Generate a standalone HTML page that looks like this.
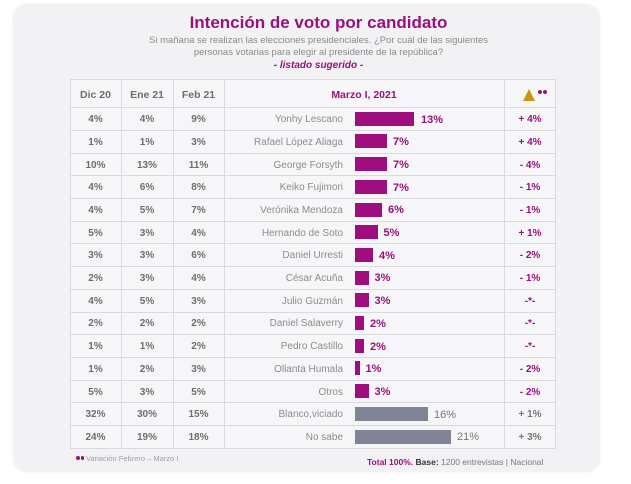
<!DOCTYPE html>
<html>
<head>
<meta charset="utf-8">
<style>
  html,body{margin:0;padding:0;background:#ffffff;}
  body{width:631px;height:484px;position:relative;overflow:hidden;font-family:"Liberation Sans",Arial,sans-serif;}
  .card{position:absolute;left:13px;top:4px;width:587px;height:468px;background:#f2f2f5;border-radius:14px;box-shadow:0 0 3px rgba(0,0,0,0.06);}
  .title{position:absolute;left:0;width:637px;top:12px;line-height:22px;text-align:center;font-size:17px;font-weight:bold;color:#9b0f7e;}
  .sub{position:absolute;left:0;width:637px;top:35px;line-height:12px;text-align:center;font-size:9.5px;color:#8a8a8a;}
  .lis{position:absolute;left:0;width:637px;top:60px;line-height:12px;text-align:center;font-size:10px;font-weight:bold;font-style:italic;color:#9b0f7e;}
  .tbl{position:absolute;left:70px;top:79px;width:486px;height:369px;background:#f6f6f8;}
  .hl{position:absolute;left:70px;width:486px;height:1px;background:#d9d9de;}
  .vl{position:absolute;top:79px;height:369px;width:1px;background:#d9d9de;}
  .r{position:absolute;left:70px;width:486px;height:22.7px;line-height:22.7px;}
  .r span{position:absolute;top:1.7px;white-space:nowrap;}
  .c1{left:0;width:51px;text-align:center;font-size:10px;font-weight:bold;color:#6e6e6e;}
  .c2{left:51px;width:52px;text-align:center;font-size:10px;font-weight:bold;color:#6e6e6e;}
  .c3{left:103px;width:51px;text-align:center;font-size:10px;font-weight:bold;color:#6e6e6e;}
  .nm{left:73px;width:200px;text-align:right;font-size:10px;color:#8c8c8c;}
  .r span.bar{left:285px;top:4.3px;height:14px;background:#9e0e7f;}
  .r span.bar.g{background:#808496;}
  .pl{font-size:11px;font-weight:bold;color:#9b0f7e;}
  .r span.pl{top:1px;}
  .pl.g{font-weight:normal;color:#777;}
  .d{left:434.5px;width:51px;text-align:center;font-size:10px;font-weight:bold;color:#9b0f7e;}
  .d.g{color:#777;}
  .hdr{position:absolute;top:80.5px;height:28px;line-height:28px;text-align:center;font-size:10.5px;font-weight:bold;color:#6e6e6e;}
  .tri{position:absolute;left:523px;top:89px;width:0;height:0;border-left:6.5px solid transparent;border-right:6.5px solid transparent;border-bottom:12px solid #c9960c;}
  .dot{position:absolute;width:4px;height:4px;border-radius:2px;background:#9b0f7e;}
  .fl{position:absolute;left:86px;top:453px;line-height:12px;font-size:7.5px;color:#a0a0a0;}
  .fr{position:absolute;left:367px;top:456px;line-height:13px;font-size:8.5px;color:#7a7a7a;white-space:nowrap;}
</style>
</head>
<body>
<div class="card"></div>
<div class="title">Intención de voto por candidato</div>
<div class="sub">Si mañana se realizan las elecciones presidenciales. ¿Por cuál de las siguientes<br>personas votarias para elegir al presidente de la república?</div>
<div class="lis">- listado sugerido -</div>

<div class="tbl"></div>
<div class="hl" style="top:79px"></div>
<div class="hl" style="top:107px"></div>
<div class="hl" style="top:130px"></div>
<div class="hl" style="top:152.5px"></div>
<div class="hl" style="top:175px"></div>
<div class="hl" style="top:198px"></div>
<div class="hl" style="top:220.5px"></div>
<div class="hl" style="top:243px"></div>
<div class="hl" style="top:266px"></div>
<div class="hl" style="top:288.5px"></div>
<div class="hl" style="top:311.5px"></div>
<div class="hl" style="top:334px"></div>
<div class="hl" style="top:357px"></div>
<div class="hl" style="top:379.5px"></div>
<div class="hl" style="top:402px"></div>
<div class="hl" style="top:425px"></div>
<div class="hl" style="top:447.5px"></div>
<div class="vl" style="left:70px"></div>
<div class="vl" style="left:121px"></div>
<div class="vl" style="left:173px"></div>
<div class="vl" style="left:224px"></div>
<div class="vl" style="left:504px"></div>
<div class="vl" style="left:555px"></div>

<div class="hdr" style="left:70px;width:51px">Dic 20</div>
<div class="hdr" style="left:121px;width:52px">Ene 21</div>
<div class="hdr" style="left:173px;width:51px">Feb 21</div>
<div class="hdr" style="left:224px;width:280px;color:#9b0f7e">Marzo I, 2021</div>
<div class="tri"></div>
<div class="dot" style="left:538px;top:90px"></div>
<div class="dot" style="left:543px;top:90px"></div>

<div class="r" style="top:107.5px"><span class="c1">4%</span><span class="c2">4%</span><span class="c3">9%</span><span class="nm">Yonhy Lescano</span><span class="bar" style="width:59px"></span><span class="pl" style="left:351px">13%</span><span class="d">+ 4%</span></div>
<div class="r" style="top:130.2px"><span class="c1">1%</span><span class="c2">1%</span><span class="c3">3%</span><span class="nm">Rafael López Aliaga</span><span class="bar" style="width:32px"></span><span class="pl" style="left:323px">7%</span><span class="d">+ 4%</span></div>
<div class="r" style="top:152.9px"><span class="c1">10%</span><span class="c2">13%</span><span class="c3">11%</span><span class="nm">George Forsyth</span><span class="bar" style="width:32px"></span><span class="pl" style="left:323px">7%</span><span class="d">- 4%</span></div>
<div class="r" style="top:175.6px"><span class="c1">4%</span><span class="c2">6%</span><span class="c3">8%</span><span class="nm">Keiko Fujimori</span><span class="bar" style="width:32px"></span><span class="pl" style="left:323px">7%</span><span class="d">- 1%</span></div>
<div class="r" style="top:198.3px"><span class="c1">4%</span><span class="c2">5%</span><span class="c3">7%</span><span class="nm">Verónika Mendoza</span><span class="bar" style="width:27px"></span><span class="pl" style="left:318px">6%</span><span class="d">- 1%</span></div>
<div class="r" style="top:221.0px"><span class="c1">5%</span><span class="c2">3%</span><span class="c3">4%</span><span class="nm">Hernando de Soto</span><span class="bar" style="width:22.5px"></span><span class="pl" style="left:313.5px">5%</span><span class="d">+ 1%</span></div>
<div class="r" style="top:243.7px"><span class="c1">3%</span><span class="c2">3%</span><span class="c3">6%</span><span class="nm">Daniel Urresti</span><span class="bar" style="width:18px"></span><span class="pl" style="left:309px">4%</span><span class="d">- 2%</span></div>
<div class="r" style="top:266.4px"><span class="c1">2%</span><span class="c2">3%</span><span class="c3">4%</span><span class="nm">César Acuña</span><span class="bar" style="width:13.5px"></span><span class="pl" style="left:304.5px">3%</span><span class="d">- 1%</span></div>
<div class="r" style="top:289.1px"><span class="c1">4%</span><span class="c2">5%</span><span class="c3">3%</span><span class="nm">Julio Guzmán</span><span class="bar" style="width:13.5px"></span><span class="pl" style="left:304.5px">3%</span><span class="d">-*-</span></div>
<div class="r" style="top:311.8px"><span class="c1">2%</span><span class="c2">2%</span><span class="c3">2%</span><span class="nm">Daniel Salaverry</span><span class="bar" style="width:9px"></span><span class="pl" style="left:300px">2%</span><span class="d">-*-</span></div>
<div class="r" style="top:334.5px"><span class="c1">1%</span><span class="c2">1%</span><span class="c3">2%</span><span class="nm">Pedro Castillo</span><span class="bar" style="width:9px"></span><span class="pl" style="left:300px">2%</span><span class="d">-*-</span></div>
<div class="r" style="top:357.2px"><span class="c1">1%</span><span class="c2">2%</span><span class="c3">3%</span><span class="nm">Ollanta Humala</span><span class="bar" style="width:4.5px"></span><span class="pl" style="left:295.5px">1%</span><span class="d">- 2%</span></div>
<div class="r" style="top:379.9px"><span class="c1">5%</span><span class="c2">3%</span><span class="c3">5%</span><span class="nm">Otros</span><span class="bar" style="width:13.5px"></span><span class="pl" style="left:304.5px">3%</span><span class="d">- 2%</span></div>
<div class="r" style="top:402.6px"><span class="c1">32%</span><span class="c2">30%</span><span class="c3">15%</span><span class="nm">Blanco,viciado</span><span class="bar g" style="width:73px"></span><span class="pl g" style="left:364px">16%</span><span class="d g">+ 1%</span></div>
<div class="r" style="top:425.3px"><span class="c1">24%</span><span class="c2">19%</span><span class="c3">18%</span><span class="nm">No sabe</span><span class="bar g" style="width:96px"></span><span class="pl g" style="left:387px">21%</span><span class="d g">+ 3%</span></div>

<div class="dot" style="left:76px;top:456px;width:3.5px;height:3.5px"></div>
<div class="dot" style="left:80.5px;top:456px;width:3.5px;height:3.5px"></div>
<div class="fl">Variación Febrero – Marzo I</div>
<div class="fr"><b style="color:#9b0f7e">Total 100%.</b> <b style="color:#333">Base:</b> 1200 entrevistas | Nacional</div>
</body>
</html>
